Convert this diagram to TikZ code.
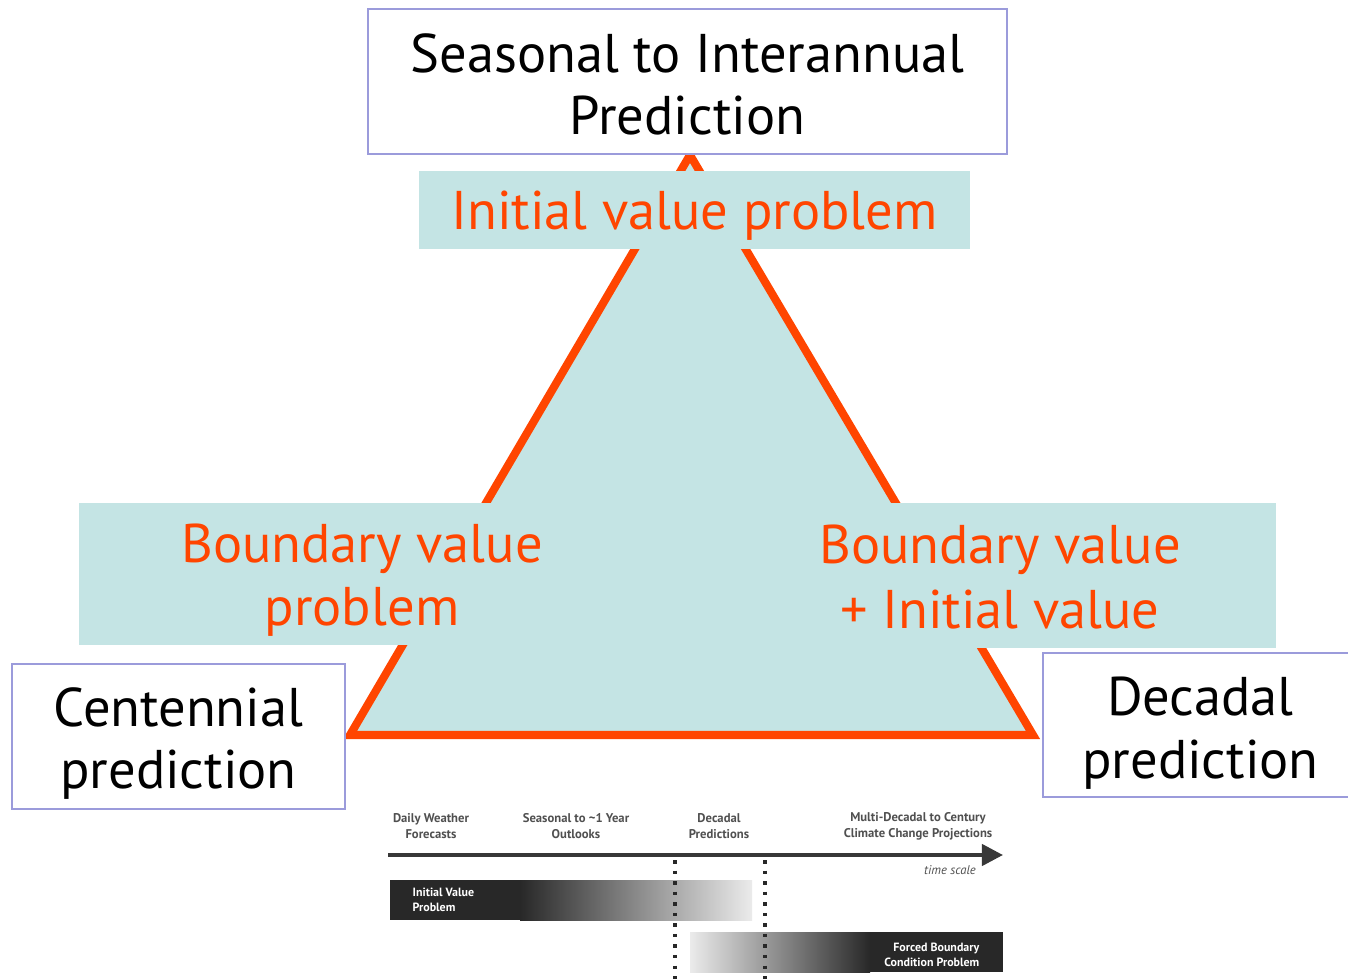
\documentclass[tikz,border=0pt]{standalone}
\usepackage{fontspec}
\setmainfont{PT Sans}
\usetikzlibrary{arrows.meta}
\definecolor{ivteal}{RGB}{196,228,228}
\definecolor{ivorange}{RGB}{255,69,0}
\definecolor{boxline}{RGB}{155,155,219}
\definecolor{bardark}{RGB}{40,40,40}
\definecolor{barlight}{RGB}{235,235,235}
\definecolor{smallgray}{RGB}{80,80,80}

\tikzset{
  predbox/.style={draw=boxline, line width=0.7pt, fill=white, inner sep=0pt},
  probband/.style={fill=ivteal, inner sep=0pt},
  bigtext/.style={align=center, inner sep=0pt, font=\fontsize{15.5}{17.8}\selectfont},
  probtext/.style={bigtext, text=ivorange},
  tinylabel/.style={align=center, text=smallgray, inner sep=0pt,
    font=\fontsize{3.6}{4.5}\selectfont\bfseries},
  barlabel/.style={text=white, inner sep=0pt, font=\fontsize{3.4}{4.3}\selectfont\bfseries}
}

\begin{document}
\begin{tikzpicture}[x=0.01cm, y=-0.01cm]
\useasboundingbox (0,0) rectangle (1348,979);

% triangle
\draw[ivorange, fill=ivteal, line width=2.3pt, line join=miter]
  (690,155) -- (350,735) -- (1033,735) -- cycle;

% problem bands
\node[probband, minimum width=5.51cm, minimum height=0.78cm] (ivp) at (694.5,210) {};
\node[probband, minimum width=5.66cm, minimum height=1.42cm] (bvp) at (362,574) {};
\node[probband, minimum width=5.52cm, minimum height=1.45cm] (bivp) at (1000,575.5) {};
\node[probtext] (ivptext) at (694.5,216) {Initial value problem};
\node[probtext] (bvptext) at (362,580) {Boundary value\\problem};
\node[probtext, font=\fontsize{15.5}{18.6}\selectfont] (bivptext) at (1000,577) {Boundary value\\+ Initial value};

% prediction boxes
\node[predbox, minimum width=6.39cm, minimum height=1.45cm] (seasonal) at (687.5,81.5) {};
\node[predbox, minimum width=3.33cm, minimum height=1.45cm] (centennial) at (178.5,736.5) {};
\node[predbox, minimum width=3.15cm, minimum height=1.44cm] (decadal) at (1200.5,725) {};
\node[bigtext] (seasonaltext) at (687.5,84.5) {Seasonal to Interannual\\Prediction};
\node[bigtext] (centennialtext) at (178.5,743.5) {Centennial\\prediction};
\node[bigtext] (decadaltext) at (1200.5,733) {Decadal\\prediction};

% time scale sketch
\node[tinylabel] (daily) at (431,826) {Daily Weather\\Forecasts};
\node[tinylabel] (outlook) at (576,826) {Seasonal to {\char"7E}1 Year\\Outlooks};
\node[tinylabel] (decpred) at (719,826) {Decadal\\Predictions};
\node[tinylabel] (century) at (918,826) {Multi-Decadal to Century\\Climate Change Projections};
\coordinate (tstart) at (388,855);
\coordinate (tend) at (1003,855);
\draw[smallgray!70!black, line width=1.2pt, -{Triangle[length=6pt, width=6pt]}] (tstart) -- (tend);
\node[tinylabel, font=\fontsize{3.6}{4.5}\selectfont\itshape] (tscale) at (950,870) {time scale};

% initial value bar
\fill[bardark] (390,880) rectangle (520,920);
\shade[left color=bardark, right color=barlight] (520,880) rectangle (752,920);
\node[barlabel, align=left, anchor=west] (ivbar) at (412,900) {Initial Value\\Problem};

% forced boundary bar
\shade[left color=barlight, right color=bardark] (690,932) rectangle (870,972);
\fill[bardark] (870,932) rectangle (1003,972);
\node[barlabel, align=right, anchor=east] (fbbar) at (980,955) {Forced Boundary\\Condition Problem};

% separators
\coordinate (sepa) at (675,860);
\coordinate (sepb) at (765,860);
\draw[bardark, line width=1pt, dotted] (sepa) -- (675,979);
\draw[bardark, line width=1pt, dotted] (sepb) -- (765,979);
\end{tikzpicture}
\end{document}
